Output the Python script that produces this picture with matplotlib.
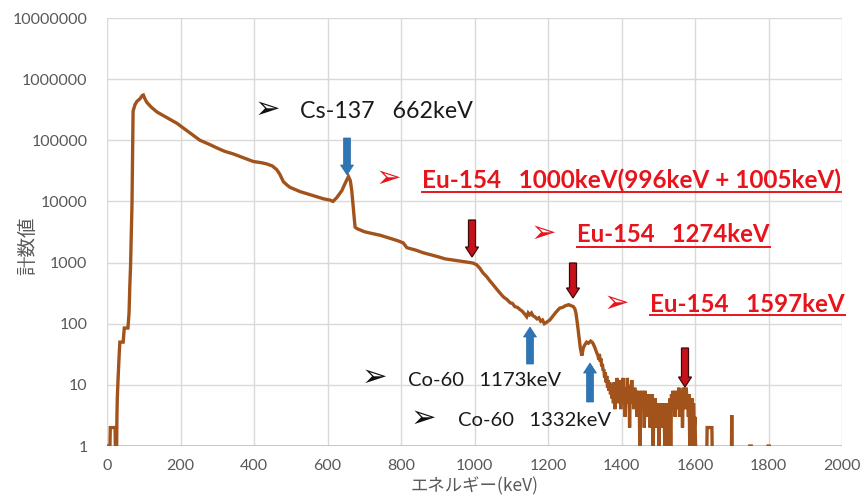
import numpy as np
import matplotlib
matplotlib.use("Agg")
import matplotlib.pyplot as plt
from matplotlib.patches import Polygon
from matplotlib.lines import Line2D
from matplotlib.transforms import IdentityTransform

# ---------------- data ----------------
smooth_kev = [0, 8, 9, 22, 23, 26, 27, 28, 30, 33, 35, 44, 47, 57, 60, 62, 64, 66, 68, 70,
              71, 76, 81, 90, 96, 99, 103, 108, 120, 136, 160, 190, 220, 253, 280, 299, 320,
              343, 370, 398, 420, 435, 450, 462, 470, 480, 490, 498, 525, 560, 590, 607, 615,
              625, 639, 650, 657, 662, 666, 670, 675, 680, 700, 720, 743, 765, 789, 806, 816,
              840, 860, 879, 900, 920, 942, 965, 988, 996, 1006, 1015, 1023, 1034, 1042, 1050,
              1060, 1069, 1075, 1080, 1088, 1097, 1103, 1110, 1117, 1124, 1130, 1136, 1142,
              1146, 1150, 1155, 1159, 1164, 1170, 1175, 1180, 1185, 1190, 1196, 1200, 1205,
              1212, 1220, 1226, 1232, 1240, 1246, 1251, 1256, 1260, 1265, 1269, 1273, 1276,
              1280, 1283, 1288, 1292, 1296, 1300, 1305, 1310, 1316, 1320, 1323, 1328, 1333]
smooth_counts = [1, 1, 2, 2, 0, 0, 3, 6, 12, 30, 50, 50, 85, 85, 150, 400, 850, 3000, 9000,
                 100000, 300000, 380000, 430000, 480000, 540000, 550000, 480000, 420000,
                 350000, 290000, 240000, 190000, 140000, 100000, 85000, 75000, 66000, 60000,
                 52000, 45000, 43000, 41000, 38000, 33000, 28000, 21000, 18500, 17000, 14500,
                 12500, 11000, 10500, 10000, 11500, 15000, 21000, 25500, 22000, 15000, 8000,
                 3800, 3600, 3200, 3000, 2800, 2550, 2300, 2100, 1750, 1600, 1450, 1350, 1250,
                 1150, 1100, 1050, 1000, 980, 920, 800, 680, 580, 500, 440, 370, 320, 290, 270,
                 250, 220, 215, 190, 185, 170, 160, 145, 130, 150, 140, 150, 135, 130, 120, 125,
                 110, 115, 100, 105, 110, 115, 130, 150, 165, 180, 185, 195, 200, 205, 200, 195,
                 190, 175, 150, 100, 70, 40, 30, 40, 45, 50, 48, 52, 50, 47, 40, 33]

noisy_start_kev = 1336
noisy_step_kev = 2
noisy_counts = [30, 26, 32, 24, 27, 20, 22, 17,
                18, 13, 16, 11, 14, 9, 12, 8, 11, 7,
                10, 6, 9, 5, 11, 4, 9, 6, 13, 5,
                9, 7, 12, 4, 10, 6, 13, 5, 9, 3,
                8, 6, 13, 5, 10, 2, 9, 6, 12, 5,
                8, 4, 9, 6, 8, 3, 7, 5, 8, 0,
                6, 4, 8, 5, 7, 2, 8, 4, 7, 3,
                6, 4, 7, 2, 6, 3, 7, 0, 5, 4,
                6, 2, 5, 3, 5, 0, 4, 3, 5, 2,
                4, 3, 5, 0, 4, 2, 5, 0, 4, 3,
                6, 0, 7, 4, 8, 5, 7, 3, 8, 5,
                7, 4, 9, 3, 8, 5, 8, 2, 9, 5,
                8, 4, 9, 6, 7, 3, 7, 0, 6, 3,
                6, 0, 5, 2, 3, 0, 1, 0, 0]

tail_kev = [1610, 1632, 1633, 1646, 1647, 1699, 1700, 1701, 1748, 1749, 1753, 1754,
            1798, 1799, 1802, 1803, 2000]
tail_counts = [0, 0, 2, 2, 0, 0, 3.2, 0, 0, 1, 1, 0, 0, 1, 1, 0, 0]

x_ticks = [0, 200, 400, 600, 800, 1000, 1200, 1400, 1600, 1800, 2000]
y_ticks = [1, 10, 100, 1000, 10000, 100000, 1000000, 10000000]
y_tick_labels = ["1", "10", "100", "1000", "10000", "100000", "1000000", "10000000"]

x_label = "エネルギー(keV)"
y_label = "計数値"

# annotations: (text, left px, center y px, target width px)
black_notes = [("Cs-137   662keV", 300, 111, 173),
               ("Co-60   1173keV", 408, 380, 154),
               ("Co-60   1332keV", 458, 420, 154)]
red_notes = [("Eu-154   1000keV(996keV + 1005keV)", 422, 180, 421, 192),
             ("Eu-154   1274keV", 577, 235, 193, 247),
             ("Eu-154   1597keV", 650, 304, 195, 315)]
black_bullets = [(267, 109), (374, 377), (423, 418)]
red_bullets = [(388, 178), (543, 233), (616, 303)]
# block arrows: (x center px, tail y px, tip y px)
blue_arrows = [(347, 138, 175), (530, 364, 327), (590, 402, 363)]
red_arrows = [(472, 220, 257), (573, 263, 298), (685, 348, 387)]

# ---------------- build series ----------------
noisy_kev = list(noisy_start_kev + noisy_step_kev * np.arange(len(noisy_counts)))
energy = np.array(smooth_kev + noisy_kev + tail_kev, dtype=float)
counts = np.array(smooth_counts + noisy_counts + tail_counts, dtype=float)
plot_counts = np.where(counts <= 0, 0.7, counts)

W, H = 868, 498
fig = plt.figure(figsize=(W / 100, H / 100), dpi=100)
fig.patch.set_facecolor("white")
ax = fig.add_axes([107 / W, (H - 446) / H, 735 / W, 428 / H])

ax.plot(energy, plot_counts, color="#A2531C", lw=2.4, solid_joinstyle="miter", zorder=3)
ax.set_yscale("log")
ax.set_xlim(0, 2000)
ax.set_ylim(1, 1e7)
ax.set_xticks(x_ticks)
ax.set_xticklabels([str(v) for v in x_ticks])
ax.set_yticks(y_ticks)
ax.set_yticklabels(y_tick_labels)
ax.yaxis.set_minor_locator(matplotlib.ticker.NullLocator())
ax.grid(True, color="#D9D9D9", lw=1.0, zorder=0)
ax.set_axisbelow(True)
for s in ax.spines.values():
    s.set_visible(False)
ax.axhline(1, color="#BFBFBF", lw=1.2, zorder=2)
ax.tick_params(length=0, labelcolor="#595959", labelsize=11.5)
ax.tick_params(axis="y", pad=14)
ax.tick_params(axis="x", pad=9)
for lab in ax.get_xticklabels() + ax.get_yticklabels():
    lab.set_fontfamily(["Lato", "DejaVu Sans"])

fig.text(475 / W, 1 - 486 / H, x_label, ha="center", va="center", fontsize=12.5,
         color="#595959", family=["Noto Sans CJK JP", "DejaVu Sans"])
fig.text(28 / W, 1 - 246 / H, y_label, ha="center", va="center", fontsize=14,
         rotation=90, color="#595959", family=["Noto Sans CJK JP", "DejaVu Sans"])

fig.canvas.draw()
renderer = fig.canvas.get_renderer()


def fit_text(s, xl, yc, target_w, **kw):
    t = fig.text(xl / W, 1 - yc / H, s, ha="left", va="center", fontsize=14, **kw)
    w = t.get_window_extent(renderer).width
    t.set_fontsize(14 * target_w / w)
    return t


for s, xl, yc, tw in black_notes:
    fit_text(s, xl, yc, tw, color="#1a1a1a", family=["Lato", "DejaVu Sans"])

for s, xl, yc, tw, uy in red_notes:
    t = fit_text(s, xl, yc, tw, color="#E8141C", fontweight="bold", family=["Lato", "DejaVu Sans"])
    bb = t.get_window_extent(renderer)
    fig.add_artist(Line2D([bb.x0 / W, bb.x1 / W], [1 - uy / H, 1 - uy / H],
                          transform=fig.transFigure, color="#E8141C", lw=1.4))

for (bx, by) in black_bullets:
    fig.text(bx / W, 1 - by / H, "➢", ha="center", va="center", fontsize=22,
             color="#111111", family=["DejaVu Sans"])
for (bx, by) in red_bullets:
    fig.text(bx / W, 1 - by / H, "➢", ha="center", va="center", fontsize=22,
             color="#E8141C", family=["DejaVu Sans"])


def block_arrow(xc, y_tail, y_tip, face, edge, elw):
    sw, hw, hl = 3.5, 6.5, 10.0
    d = 1 if y_tip > y_tail else -1
    yb = y_tip - d * hl
    pts_px = [(xc - sw, y_tail), (xc + sw, y_tail), (xc + sw, yb), (xc + hw, yb),
              (xc, y_tip), (xc - hw, yb), (xc - sw, yb)]
    pts = [(px, H - py) for px, py in pts_px]
    fig.add_artist(Polygon(pts, closed=True, transform=IdentityTransform(),
                           facecolor=face, edgecolor=edge, lw=elw, zorder=5))


for xc, yt, yp in blue_arrows:
    block_arrow(xc, yt, yp, "#2E75B6", "#2A6AA6", 0.5)
for xc, yt, yp in red_arrows:
    block_arrow(xc, yt, yp, "#C8101A", "#3A0A0A", 0.9)

fig.savefig("out.png", dpi=100, facecolor="white")
